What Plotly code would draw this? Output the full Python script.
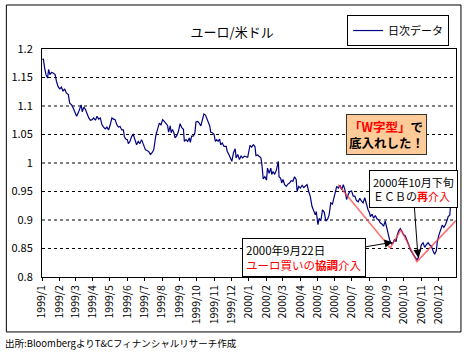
import pandas as pd
import plotly.graph_objects as go

# ---- data: day offsets from 1999-01-01 and EUR/USD daily values ----
days_1 = [1.1,2.3,4.6,7.0,9.9,11.6,14.0,16.8,19.7,23.2,25.6,28.5,31.4,34.3,37.2,40.1,43.0,46.5,48.9,52.3,
          55.3,58.2,61.1,64.0,66.3,69.2,71.0,73.9,76.8,79.7,82.6,85.5,88.4,91.3,94.3,97.2,100.1,103.0,105.9,108.8,
          111.7,114.6,117.5,120.5,123.4,126.3,129.2,132.1,135.0,137.9,140.8,143.7,145.5,147.8,150.7,152.5,155.4,158.3,161.2,164.1,
          167.0,169.9,172.8,175.8]
vals_1 = [1.181,1.183,1.167,1.155,1.149,1.164,1.155,1.159,1.158,1.155,1.143,1.134,1.130,1.133,1.126,1.130,1.123,1.120,1.105,1.102,
          1.096,1.088,1.082,1.088,1.095,1.102,1.090,1.098,1.094,1.085,1.079,1.075,1.076,1.079,1.075,1.082,1.077,1.079,1.067,1.063,
          1.060,1.063,1.058,1.067,1.079,1.077,1.076,1.067,1.063,1.064,1.058,1.058,1.046,1.042,1.041,1.034,1.038,1.047,1.050,1.041,
          1.032,1.038,1.034,1.041]
days_2 = [179.8,182.7,185.6,188.5,191.5,194.4,197.3,199.0,201.3,204.3,207.2,210.1,213.0,215.9,218.8,221.7,223.5,226.4,228.1,230.5,
          232.8,235.1,238.0,241.0,243.8,246.8,249.7,251.4,254.3,257.2,260.1,261.9,264.2,267.1,270.0,271.8,274.7,277.6,280.5,282.8,
          285.8,288.7,291.0,293.3,296.2,298.0,300.9,303.8,306.1,308.5,310.8,313.7,315.4,318.3,321.3,325.3,327.1,330.0,332.9,335.2,
          338.1,341.1,342.8,345.7,348.6,351.5,354.4,357.3]
vals_2 = [1.032,1.023,1.022,1.020,1.015,1.018,1.023,1.035,1.050,1.060,1.070,1.067,1.076,1.073,1.070,1.066,1.054,1.065,1.053,1.059,
          1.053,1.044,1.048,1.056,1.069,1.062,1.059,1.038,1.041,1.038,1.044,1.036,1.047,1.047,1.053,1.072,1.073,1.070,1.065,1.073,
          1.086,1.084,1.079,1.073,1.065,1.054,1.053,1.050,1.038,1.041,1.038,1.042,1.032,1.035,1.029,1.029,1.020,1.015,1.009,1.003,
          1.018,1.025,1.009,1.015,1.006,1.012,1.009,1.012]
days_3 = [363.2,365.0,367.3,370.2,373.1,376.0,377.8,380.7,383.6,386.5,388.2,390.6,393.5,396.4,398.1,401.0,404.0,405.7,408.0,410.9,
          413.9,415.6,417.3,418.5,421.4,423.2,425.5,428.4,431.3,434.2,437.1,440.0,443.0,445.9,448.8,450.5,453.4,456.3,459.3,462.2,
          465.1,468.0,470.9,473.8,476.7,479.6,482.5,484.3,487.2,489.5,492.4,495.3,498.3,501.2,504.1,507.0,509.9,512.8,514.6,517.5,
          520.4,523.3,526.2,529.1,532.0,534.9,537.8,540.8]
vals_3 = [1.010,1.022,1.031,1.028,1.032,1.029,1.013,1.014,1.011,1.009,0.998,0.972,0.976,0.970,0.991,0.982,0.991,0.980,0.985,0.980,
          0.988,0.994,1.003,0.976,0.973,0.965,0.971,0.962,0.959,0.963,0.965,0.969,0.968,0.976,0.971,0.950,0.959,0.956,0.961,0.957,
          0.959,0.962,0.950,0.941,0.924,0.918,0.909,0.915,0.892,0.903,0.899,0.918,0.914,0.898,0.901,0.909,0.930,0.928,0.936,0.947,
          0.959,0.956,0.961,0.953,0.962,0.953,0.936,0.945]
days_4 = [543.7,546.6,549.5,552.4,555.3,558.3,561.2,564.1,567.0,569.9,572.8,575.7,578.6,579.8,582.7,585.6,588.5,591.4,594.3,597.3,
          600.2,603.1,606.0,608.9,610.6,612.4,614.1,617.0,619.9,622.3,625.2,626.9,629.8,632.8,635.7,638.6,641.5,644.4,647.3,650.2,
          653.1,656.0,659.0,661.9,664.2,667.1,670.0,672.9,675.8,678.7,681.7,684.6,687.5,690.4,693.3,696.2,698.0,700.9,703.8,706.7,
          709.6,712.5,715.4,717.2,720.1,721.2,724.2,727.0,730.0]
vals_4 = [0.950,0.951,0.942,0.942,0.934,0.932,0.938,0.933,0.930,0.939,0.927,0.918,0.912,0.906,0.910,0.903,0.908,0.902,0.900,0.895,
          0.893,0.889,0.898,0.886,0.880,0.872,0.864,0.858,0.860,0.866,0.862,0.872,0.881,0.885,0.880,0.874,0.872,0.866,0.857,0.848,
          0.844,0.840,0.836,0.830,0.833,0.845,0.857,0.860,0.852,0.857,0.860,0.856,0.854,0.846,0.840,0.846,0.862,0.874,0.883,0.891,
          0.887,0.892,0.900,0.906,0.909,0.924,0.927,0.935,0.940]

# "W" shape guide line
w_days = [523, 615, 634, 662, 731]
w_vals = [0.962, 0.851, 0.883, 0.827, 0.899]

# intervention points
interv_days = [619, 664]
interv_vals = [0.861, 0.834]

tick_dates = [f"{y}-{m:02d}-01" for y in (1999, 2000) for m in range(1, 13)]
tick_labels = ["1999/1","1999/2","1999/3","1999/4","1999/5","1999/6","1999/7","1999/8","1999/9","1999/10","1999/11","1999/12",
               "2000/1","2000/2","2000/3","2000/4","2000/5","2000/6","2000/7","2000/8","2000/9","2000/10","2000/11","2000/12"]
y_ticks = [0.8, 0.85, 0.9, 0.95, 1.0, 1.05, 1.1, 1.15, 1.2]
y_tick_labels = ["0.8", "0.85", "0.9", "0.95", "1", "1.05", "1.1", "1.15", "1.2"]
grid_levels = [0.85, 0.9, 0.95, 1.0, 1.05, 1.1, 1.15]

base = pd.Timestamp("1999-01-01")
def to_dates(d):
    return base + pd.to_timedelta(d, unit="D")

days = days_1 + days_2 + days_3 + days_4
vals = vals_1 + vals_2 + vals_3 + vals_4

FONT = "Noto Sans CJK JP"

fig = go.Figure()
fig.add_trace(go.Scatter(x=to_dates(days), y=vals, mode="lines", name="日次データ",
                         line=dict(color="#000080", width=1.2)))
fig.add_trace(go.Scatter(x=to_dates(w_days), y=w_vals, mode="lines", showlegend=False,
                         line=dict(color="rgba(255,60,60,0.75)", width=1.5), hoverinfo="skip"))

# dashed horizontal gridlines
for g in grid_levels:
    fig.add_shape(type="line", xref="paper", yref="y", x0=0, x1=1, y0=g, y1=g,
                  line=dict(color="black", width=1, dash="3px,3px"), layer="below")

idates = to_dates(interv_days)
fig.add_annotation(x=idates[0], y=interv_vals[0], ax=-89, ay=15,
                   text="2000年9月22日<br><span style='color:red'>ユーロ買いの<b>協調</b>介入</span>",
                   showarrow=True, arrowhead=2, arrowsize=1.6, arrowwidth=1, arrowcolor="black",
                   bordercolor="black", borderwidth=1, bgcolor="white", borderpad=3, align="left",
                   font=dict(family=FONT, size=11.5, color="black"))
fig.add_annotation(x=idates[1], y=interv_vals[1], ax=-5, ay=-69,
                   text="2000年10月下旬<br>ＥＣＢの<span style='color:red'><b>再</b>介入</span>",
                   showarrow=True, arrowhead=2, arrowsize=1.6, arrowwidth=1, arrowcolor="black",
                   bordercolor="black", borderwidth=1, bgcolor="white", borderpad=3, align="left",
                   font=dict(family=FONT, size=11, color="black"))
fig.add_annotation(x=0.831, y=0.627, xref="paper", yref="paper", xanchor="center", yanchor="middle",
                   showarrow=False,
                   text="<b><span style='color:red'>「W字型」</span>で<br>底入れした！</b>",
                   bordercolor="#333333", borderwidth=1, bgcolor="#FFCC99", borderpad=2, align="left",
                   font=dict(family=FONT, size=12.5, color="black"))
fig.add_annotation(x=-0.0933, y=-0.289, xref="paper", yref="paper", xanchor="left", yanchor="middle",
                   showarrow=False, text="出所:BloombergよりT&Cフィナンシャルリサーチ作成",
                   font=dict(family=FONT, size=9.5, color="black"))

fig.add_shape(type="rect", xref="paper", yref="paper", x0=-0.0861, x1=1.012, y0=-0.241, y1=1.193,
              line=dict(color="black", width=1), fillcolor="rgba(0,0,0,0)")

fig.update_layout(
    width=468, height=353,
    margin=dict(l=39, r=11, t=49, b=76),
    paper_bgcolor="white", plot_bgcolor="white",
    font=dict(family=FONT, size=11, color="black"),
    title=dict(text="ユーロ/米ドル", x=0.496, xanchor="center", y=1 - 32 / 353, yanchor="middle",
               yref="container", font=dict(family=FONT, size=13, color="black")),
    showlegend=True,
    legend=dict(x=0.737, y=1.149, xanchor="left", yanchor="top", bordercolor="black", borderwidth=1,
                bgcolor="white", font=dict(family=FONT, size=11), itemwidth=30),
    xaxis=dict(type="date", range=[base, base + pd.Timedelta(days=731)],
               tickvals=tick_dates, ticktext=tick_labels, tickangle=-90,
               tickfont=dict(family=FONT, size=10.5), ticks="outside", ticklen=3, tickcolor="black",
               showline=True, linecolor="black", linewidth=1, mirror=True, showgrid=False, zeroline=False),
    yaxis=dict(range=[0.8, 1.2], tickmode="array", tickvals=y_ticks, ticktext=y_tick_labels,
               tickfont=dict(family=FONT, size=11), ticks="outside", ticklen=0, ticklabelstandoff=6,
               showline=True, linecolor="black", linewidth=1, mirror=True,
               showgrid=False, zeroline=False),
)

fig.write_html("out.html")
